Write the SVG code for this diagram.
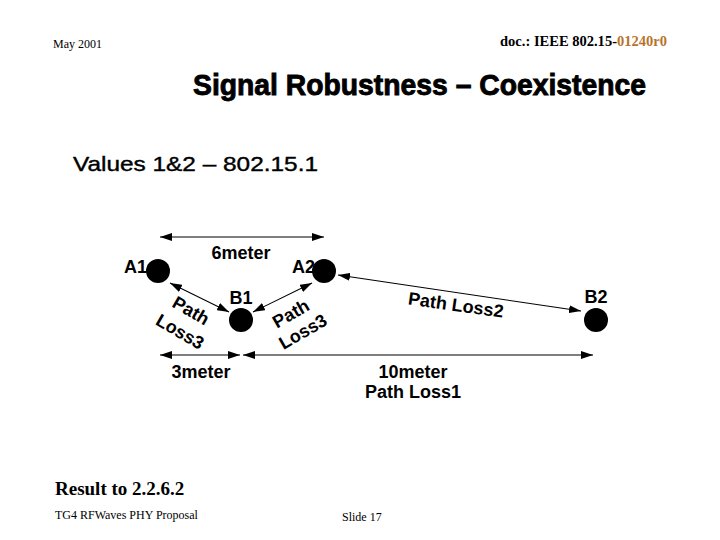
<svg xmlns="http://www.w3.org/2000/svg" width="720" height="540" viewBox="0 0 720 540">
<style>
.lbl{font-family:"Liberation Sans",Arial,sans-serif;font-weight:bold;font-size:18px;fill:#000}
.ser{font-family:"Liberation Serif","Times New Roman",serif;fill:#000}
.conn{stroke:#000;stroke-width:1.1;fill:none}
.node{fill:#000}
</style>
<defs>
<marker id="ah" viewBox="0 0 12 8" refX="12" refY="4" markerWidth="12" markerHeight="8" markerUnits="userSpaceOnUse" orient="auto-start-reverse">
<path d="M0,0 L12,4 L0,8 Z" fill="#000"/>
</marker>
</defs>
<rect width="720" height="540" fill="#fff"/>
<text class="ser" x="53" y="48" font-size="12">May 2001</text>
<text class="ser" x="500" y="46" font-size="14" font-weight="bold" textLength="167" lengthAdjust="spacingAndGlyphs">doc.: IEEE 802.15-<tspan fill="#b8732a">01240r0</tspan></text>
<text x="193" y="95" font-family="'Liberation Sans',Arial,sans-serif" font-weight="bold" font-size="30" textLength="453" lengthAdjust="spacingAndGlyphs" stroke="#000" stroke-width="0.9">Signal Robustness – Coexistence</text>
<text x="73" y="171" font-family="'Liberation Sans',Arial,sans-serif" font-size="21" textLength="245" lengthAdjust="spacingAndGlyphs" stroke="#000" stroke-width="0.4">Values 1&amp;2 – 802.15.1</text>
<g id="connectors">
<line class="conn" x1="160" y1="237" x2="324" y2="237" marker-start="url(#ah)" marker-end="url(#ah)"/>
<line class="conn" x1="170" y1="283" x2="229" y2="312" marker-start="url(#ah)" marker-end="url(#ah)"/>
<line class="conn" x1="312" y1="283" x2="253" y2="312" marker-start="url(#ah)" marker-end="url(#ah)"/>
<line class="conn" x1="338" y1="275" x2="581" y2="311" marker-start="url(#ah)" marker-end="url(#ah)"/>
<line class="conn" x1="160" y1="355" x2="240" y2="355" marker-start="url(#ah)" marker-end="url(#ah)"/>
<line class="conn" x1="243" y1="355" x2="593" y2="355" marker-start="url(#ah)" marker-end="url(#ah)"/>
<text class="lbl" x="241" y="259" text-anchor="middle">6meter</text>
<text class="lbl" x="201" y="378" text-anchor="middle">3meter</text>
<text class="lbl" x="413" y="378" text-anchor="middle">10meter</text>
<text class="lbl" x="413" y="398" text-anchor="middle">Path Loss1</text>
<text class="lbl" text-anchor="middle" transform="translate(455,311) rotate(8)">Path Loss2</text>
<text class="lbl" text-anchor="middle" transform="translate(188,316) rotate(30)">Path</text>
<text class="lbl" text-anchor="middle" transform="translate(177,337) rotate(30)">Loss3</text>
<text class="lbl" text-anchor="middle" transform="translate(294,319) rotate(-30)">Path</text>
<text class="lbl" text-anchor="middle" transform="translate(306,337) rotate(-30)">Loss3</text>
</g>
<g id="A1"><circle class="node" cx="158" cy="271" r="12"/><text class="lbl" x="147" y="273" text-anchor="end">A1</text></g>
<g id="A2"><circle class="node" cx="324" cy="271" r="12"/><text class="lbl" x="315" y="273" text-anchor="end">A2</text></g>
<g id="B1"><circle class="node" cx="241" cy="320" r="12"/><text class="lbl" x="241" y="304" text-anchor="middle">B1</text></g>
<g id="B2"><circle class="node" cx="596" cy="320" r="12"/><text class="lbl" x="596" y="303" text-anchor="middle">B2</text></g>
<text class="ser" x="55" y="495" font-size="19" font-weight="bold">Result to 2.2.6.2</text>
<text class="ser" x="55" y="519" font-size="12">TG4 RFWaves PHY Proposal</text>
<text class="ser" x="342" y="521" font-size="12">Slide 17</text>
</svg>
